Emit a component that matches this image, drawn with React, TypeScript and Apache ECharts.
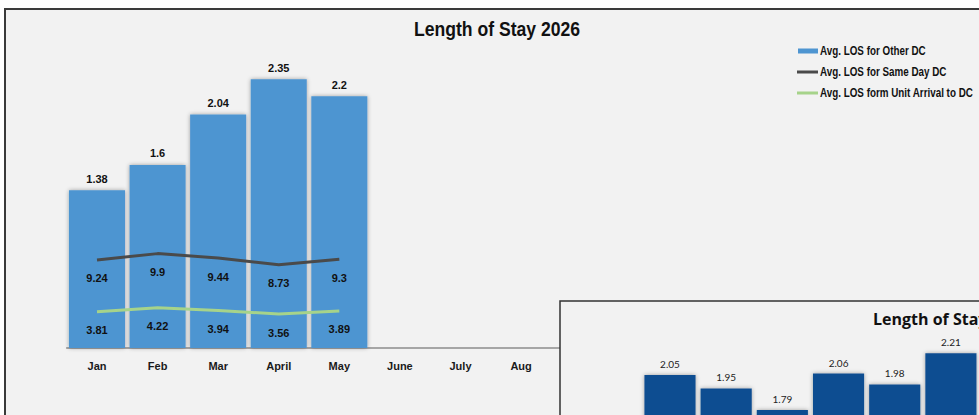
import React, { useEffect, useRef } from "react";
import * as echarts from "echarts";

const months = ["Jan", "Feb", "Mar", "April", "May", "June", "July", "Aug", "Sep", "Oct", "Nov", "Dec"];
const otherDC = [1.38, 1.6, 2.04, 2.35, 2.2];
const sameDayDC = [9.24, 9.9, 9.44, 8.73, 9.3];
const unitArrivalDC = [3.81, 4.22, 3.94, 3.56, 3.89];
const seriesNames = ["Avg. LOS for Other DC", "Avg. LOS for Same Day DC", "Avg. LOS form Unit Arrival to DC"];
const seriesColors = ["#4e95d1", "#4a4a4a", "#a6d38a"];
const months2025 = ["Jan", "Feb", "Mar", "Apr", "May", "Jun"];
const prevYear = [2.05, 1.95, 1.79, 2.06, 1.98, 2.21];

const SANS = '"Liberation Sans", Arial, sans-serif';

export default function App() {
  const ref = useRef<HTMLDivElement>(null);
  useEffect(() => {
    document.body.style.margin = "0";
    document.body.style.background = "#ffffff";
    const chart = echarts.init(ref.current!, null, { renderer: "svg" });

    const legendItems: any[] = [];
    seriesNames.forEach((name, i) => {
      const cy = 51 + i * 21;
      if (i === 0) {
        legendItems.push({
          type: "rect",
          z: 5,
          shape: { x: 798, y: cy - 2.5, width: 20, height: 5 },
          style: { fill: seriesColors[i] },
        });
      } else {
        legendItems.push({
          type: "line",
          z: 5,
          shape: { x1: 797, y1: cy, x2: 818, y2: cy },
          style: { stroke: seriesColors[i], lineWidth: 3 },
        });
      }
      legendItems.push({
        type: "text",
        z: 5,
        x: 820,
        y: cy,
        scaleX: 0.82,
        style: {
          text: name,
          font: `bold 12px ${SANS}`,
          fill: "#111111",
          align: "left",
          verticalAlign: "middle",
        },
      });
    });

    chart.setOption({
      animation: false,
      backgroundColor: "#ffffff",
      graphic: [
        {
          type: "rect",
          z: -10,
          shape: { x: 5, y: 9, width: 1000, height: 500 },
          style: { fill: "#f2f2f2", stroke: "#3a3a3a", lineWidth: 2 },
        },
        {
          type: "text",
          z: 5,
          x: 497,
          y: 29,
          scaleX: 0.88,
          style: {
            text: "Length of Stay 2026",
            font: `bold 20px ${SANS}`,
            fill: "#111111",
            align: "center",
            verticalAlign: "middle",
          },
        },
        ...legendItems,
        {
          type: "rect",
          z: 50,
          shape: { x: 560, y: 301, width: 500, height: 200 },
          style: { fill: "#f2f2f2", stroke: "#333333", lineWidth: 1.5 },
        },
        {
          type: "text",
          z: 55,
          x: 873,
          y: 319,
          style: {
            text: "Length of Stay 2025",
            font: "bold 16px 'Open Sans', Lato, sans-serif",
            fill: "#111111",
            align: "left",
            verticalAlign: "middle",
          },
        },
      ],
      grid: [
        { left: 66.7, top: 62, width: 727, height: 286 },
        { left: 641.9, top: 301, width: 340, height: 114 },
      ],
      xAxis: [
        {
          type: "category",
          gridIndex: 0,
          data: months,
          axisLine: { lineStyle: { color: "#8c8c8c", width: 1.5 } },
          axisTick: { show: false },
          axisLabel: { fontFamily: SANS, fontWeight: "bold", fontSize: 11, color: "#1a1a1a", margin: 12 },
        },
        {
          type: "category",
          gridIndex: 1,
          data: months2025,
          show: false,
        },
      ],
      yAxis: [
        { type: "value", gridIndex: 0, min: 0, max: 2.5, show: false, splitLine: { show: false } },
        { type: "value", gridIndex: 0, min: 0, max: 30, show: false, splitLine: { show: false } },
        { type: "value", gridIndex: 1, min: 1.7533, max: 2.598, show: false, splitLine: { show: false } },
      ],
      series: [
        {
          name: seriesNames[0],
          type: "bar",
          xAxisIndex: 0,
          yAxisIndex: 0,
          data: otherDC,
          barCategoryGap: "7.5%",
          itemStyle: {
            color: seriesColors[0],
            shadowColor: "rgba(0,0,0,0.35)",
            shadowBlur: 4,
          },
          label: {
            show: true,
            position: "top",
            distance: 6,
            fontFamily: SANS,
            fontWeight: "bold",
            fontSize: 11,
            color: "#111111",
          },
        },
        {
          name: seriesNames[1],
          type: "line",
          xAxisIndex: 0,
          yAxisIndex: 1,
          data: sameDayDC,
          symbol: "circle",
          symbolSize: 0,
          showSymbol: true,
          color: seriesColors[1],
          lineStyle: { color: seriesColors[1], width: 3 },
          label: {
            show: true,
            position: "bottom",
            distance: 13,
            fontFamily: SANS,
            fontWeight: "bold",
            fontSize: 11,
            color: "#111111",
          },
        },
        {
          name: seriesNames[2],
          type: "line",
          xAxisIndex: 0,
          yAxisIndex: 1,
          data: unitArrivalDC,
          symbol: "circle",
          symbolSize: 0,
          showSymbol: true,
          color: seriesColors[2],
          lineStyle: { color: seriesColors[2], width: 3 },
          label: {
            show: true,
            position: "bottom",
            distance: 13,
            fontFamily: SANS,
            fontWeight: "bold",
            fontSize: 11,
            color: "#111111",
          },
        },
        {
          name: "Length of Stay 2025",
          type: "bar",
          xAxisIndex: 1,
          yAxisIndex: 2,
          z: 60,
          clip: false,
          data: prevYear,
          barCategoryGap: "9%",
          itemStyle: {
            color: "#0f4e91",
            shadowColor: "rgba(0,0,0,0.35)",
            shadowBlur: 4,
          },
          label: {
            show: true,
            position: "top",
            distance: 6,
            fontFamily: "Lato, 'Open Sans', sans-serif",
            fontSize: 10,
            color: "#222222",
          },
        },
      ],
    });
    return () => chart.dispose();
  }, []);
  return <div ref={ref} style={{ width: 979, height: 415 }} />;
}
